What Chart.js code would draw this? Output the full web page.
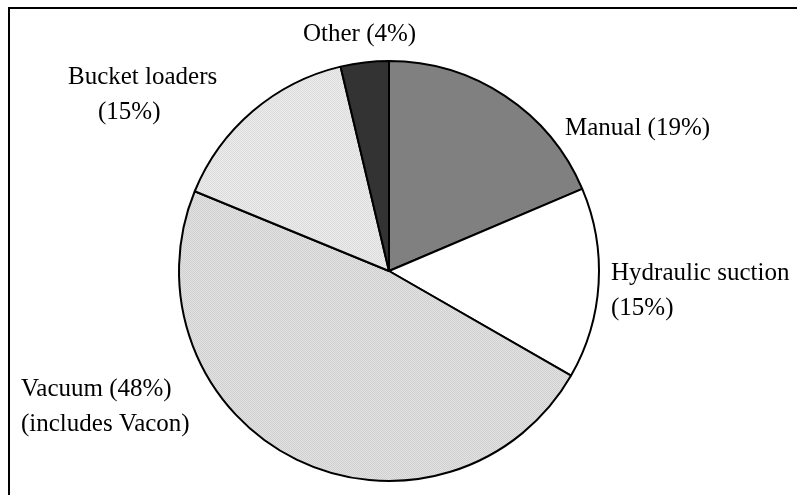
<!DOCTYPE html>
<html>
<head>
<meta charset="utf-8">
<script src="https://cdn.jsdelivr.net/npm/chart.js@4/dist/chart.umd.min.js"></script>
<style>
  html, body { margin: 0; padding: 0; background: #fff; }
  #wrap { width: 797px; height: 495px; position: relative; }
</style>
</head>
<body>
<div id="wrap"><canvas id="myChart" width="797" height="495"></canvas></div>
<script>
// slice order, clockwise from 12 o'clock
const categories = ["Manual", "Hydraulic suction", "Vacuum", "Bucket loaders", "Other"];
const shares = [18.6, 14.7, 47.9, 15.1, 3.7];
const labelLines = [
  ["Manual (19%)"],
  ["Hydraulic suction", "(15%)"],
  ["Vacuum (48%)", "(includes Vacon)"],
  ["Bucket loaders", "(15%)"],
  ["Other (4%)"],
];

// left x of each label line, and middle y of its first line
const labelX = [[565], [611, 611], [21, 21], [68, 98], [303]];
const labelY = [128, 273, 389, 77, 34];

function dotted(a, b) {
  const c = document.createElement("canvas");
  c.width = 2; c.height = 2;
  const g = c.getContext("2d");
  g.fillStyle = a; g.fillRect(0, 0, 2, 2);
  g.fillStyle = b; g.fillRect(0, 0, 1, 1); g.fillRect(1, 1, 1, 1);
  return g.createPattern(c, "repeat");
}

const fills = ["#808080", "#ffffff", dotted("#e2e2e2", "#d0d0d0"), dotted("#ececec", "#dcdcdc"), "#333333"];

const framePlugin = {
  id: "frame",
  beforeDraw(chart) {
    const ctx = chart.ctx;
    ctx.save();
    ctx.fillStyle = "#fff";
    ctx.fillRect(0, 0, chart.width, chart.height);
    ctx.strokeStyle = "#000";
    ctx.lineWidth = 2;
    ctx.strokeRect(9, 8, 820, 520);
    ctx.restore();
  },
};

const labelPlugin = {
  id: "sliceLabels",
  afterDraw(chart) {
    const ctx = chart.ctx;
    ctx.save();
    ctx.fillStyle = "#000";
    ctx.font = "25px 'Liberation Serif', 'Times New Roman', serif";
    ctx.textBaseline = "middle";
    ctx.textAlign = "left";
    labelLines.forEach((lines, i) => {
      lines.forEach((t, j) => ctx.fillText(t, labelX[i][j], labelY[i] + j * 35));
    });
    ctx.restore();
  },
};

const data = {
  labels: categories,
  datasets: [
    {
      data: shares,
      backgroundColor: fills,
      borderColor: "#000",
      borderWidth: 2,
      hoverOffset: 0,
    },
  ],
};

const config = {
  type: "pie",
  data: data,
  options: {
    responsive: false,
    animation: false,
    layout: { padding: { top: 60, bottom: 13, left: 0, right: 19 } },
    plugins: {
      legend: { display: false },
      tooltip: { enabled: false },
    },
  },
  plugins: [framePlugin, labelPlugin],
};

const chart = new Chart(document.getElementById("myChart"), config);
</script>
</body>
</html>
